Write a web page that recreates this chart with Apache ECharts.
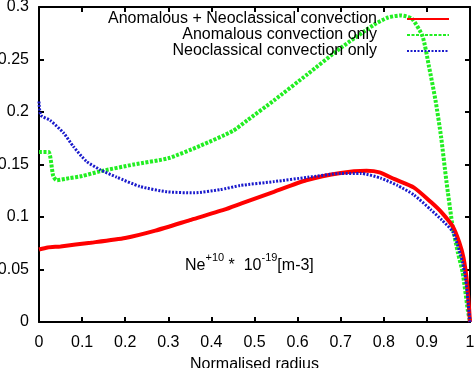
<!DOCTYPE html>
<html>
<head>
<meta charset="utf-8">
<script src="https://cdn.jsdelivr.net/npm/echarts@6/dist/echarts.min.js"></script>
<style>
html,body{margin:0;padding:0;background:#fff;}
#chart{width:474px;height:368px;}
</style>
</head>
<body>
<div id="chart"></div>
<script>
// ---- data ----
const xTickLabels = ['0','0.1','0.2','0.3','0.4','0.5','0.6','0.7','0.8','0.9','1'];
const yTickLabels = ['0','0.05','0.1','0.15','0.2','0.25','0.3'];

const seriesNames = ['Anomalous + Neoclassical convection', 'Anomalous convection only', 'Neoclassical convection only'];

const redRadius = [0, 0.02, 0.05, 0.12, 0.2, 0.27, 0.35, 0.43, 0.47, 0.545, 0.62, 0.7, 0.76, 0.79, 0.825, 0.87, 0.91, 0.935, 0.96, 0.975, 0.985, 0.993, 0.998, 1.0];
const redValues = [0.069, 0.071, 0.072, 0.0755, 0.080, 0.087, 0.097, 0.107, 0.113, 0.124, 0.135, 0.142, 0.144, 0.1425, 0.136, 0.128, 0.114, 0.104, 0.091, 0.076, 0.061, 0.038, 0.012, 0.0];

const greenRadius = [0, 0.022, 0.033, 0.041, 0.07, 0.1, 0.142, 0.22, 0.3, 0.375, 0.45, 0.483, 0.545, 0.623, 0.7, 0.777, 0.81, 0.84, 0.865, 0.89, 0.905, 0.92, 0.933, 0.945, 0.96, 0.972, 0.983, 0.995, 1.0];
const greenValues = [0.162, 0.162, 0.139, 0.135, 0.137, 0.139, 0.1435, 0.150, 0.156, 0.168, 0.182, 0.192, 0.211, 0.236, 0.261, 0.283, 0.290, 0.292, 0.289, 0.272, 0.243, 0.211, 0.176, 0.135, 0.090, 0.066, 0.047, 0.011, 0.0];

const blueRadius = [0, 0.004, 0.026, 0.057, 0.08, 0.11, 0.142, 0.18, 0.235, 0.297, 0.36, 0.42, 0.467, 0.545, 0.623, 0.7, 0.747, 0.793, 0.832, 0.87, 0.909, 0.935, 0.96, 0.975, 0.983, 0.99, 0.995, 1.0];
const blueValues = [0.21, 0.197, 0.192, 0.180, 0.167, 0.153, 0.145, 0.138, 0.129, 0.124, 0.123, 0.126, 0.130, 0.1337, 0.1378, 0.1415, 0.1415, 0.137, 0.130, 0.121, 0.107, 0.097, 0.086, 0.068, 0.056, 0.040, 0.021, 0.0];

function pairs(xs, ys){ return xs.map((x,i)=>[x, ys[i]]); }

const FONT = 'Liberation Sans, Arial, Helvetica, sans-serif';
const chart = echarts.init(document.getElementById('chart'), null, {renderer:'canvas'});

const tickStyle = {show:true, inside:true, length:5, lineStyle:{color:'#000', width:2}};
const lineStyle = {color:'#000', width:2};

chart.setOption({
  animation:false,
  backgroundColor:'#fff',
  grid:{left:39, right:4, top:7, bottom:46, containLabel:false, outerBoundsMode:'none'},
  legend:{
    show:true,
    right:24, top:11, padding:0,
    orient:'vertical',
    align:'right',
    itemWidth:42, itemHeight:16, itemGap:0,
    itemStyle:{opacity:0, borderWidth:0},
    textStyle:{fontFamily:FONT, fontSize:16, lineHeight:16, color:'#000', padding:[0,25,0,0]},
    data:seriesNames
  },
  xAxis:[{
    type:'value', min:0, max:1, interval:0.1,
    name:'Normalised radius', nameLocation:'middle', nameGap:35,
    nameTextStyle:{fontFamily:FONT, fontSize:16, color:'#000'},
    axisLine:{show:true, onZero:false, lineStyle:lineStyle},
    axisTick:tickStyle,
    axisLabel:{fontFamily:FONT, fontSize:16, color:'#000', margin:13,
      formatter:(v)=>xTickLabels[Math.round(v*10)]},
    splitLine:{show:false}
  },{
    type:'value', min:0, max:1, interval:0.1, position:'top',
    axisLine:{show:true, onZero:false, lineStyle:lineStyle},
    axisTick:tickStyle, axisLabel:{show:false}, splitLine:{show:false}
  }],
  yAxis:[{
    type:'value', min:0, max:0.3, interval:0.05,
    axisLine:{show:true, onZero:false, lineStyle:lineStyle},
    axisTick:tickStyle,
    axisLabel:{fontFamily:FONT, fontSize:16, color:'#000', margin:10,
      formatter:(v)=>yTickLabels[Math.round(v*20)]},
    splitLine:{show:false}
  },{
    type:'value', min:0, max:0.3, interval:0.05, position:'right',
    axisLine:{show:true, onZero:false, lineStyle:lineStyle},
    axisTick:tickStyle, axisLabel:{show:false}, splitLine:{show:false}
  }],
  graphic:[{
    type:'text', left:185, top:252,
    style:{
      text:'{b|Ne}{s|+10}{b| *  10}{s|-19}{b|[m-3]}',
      rich:{
        b:{fontFamily:FONT, fontSize:16, fill:'#000', verticalAlign:'bottom', lineHeight:22},
        s:{fontFamily:FONT, fontSize:11, fill:'#000', verticalAlign:'top', lineHeight:22, padding:[0,0,10,0]}
      }
    }
  }],
  series:[{
    name:seriesNames[0], type:'line', showSymbol:false, symbol:'none', smooth:0.2,
    lineStyle:{color:'#ff0000', width:4, type:'solid'}, itemStyle:{color:'#ff0000'},
    data:pairs(redRadius, redValues), z:3
  },{
    name:seriesNames[1], type:'line', showSymbol:false, symbol:'none', smooth:0.2,
    lineStyle:{color:'#22ee22', width:4, type:[3,1.5]}, itemStyle:{color:'#22ee22'},
    data:pairs(greenRadius, greenValues), z:2
  },{
    name:seriesNames[2], type:'line', showSymbol:false, symbol:'none', smooth:0.2,
    lineStyle:{color:'#1a1acc', width:3, type:[2,1.5]}, itemStyle:{color:'#1a1acc'},
    data:pairs(blueRadius, blueValues), z:4
  }]
});
</script>
</body>
</html>
